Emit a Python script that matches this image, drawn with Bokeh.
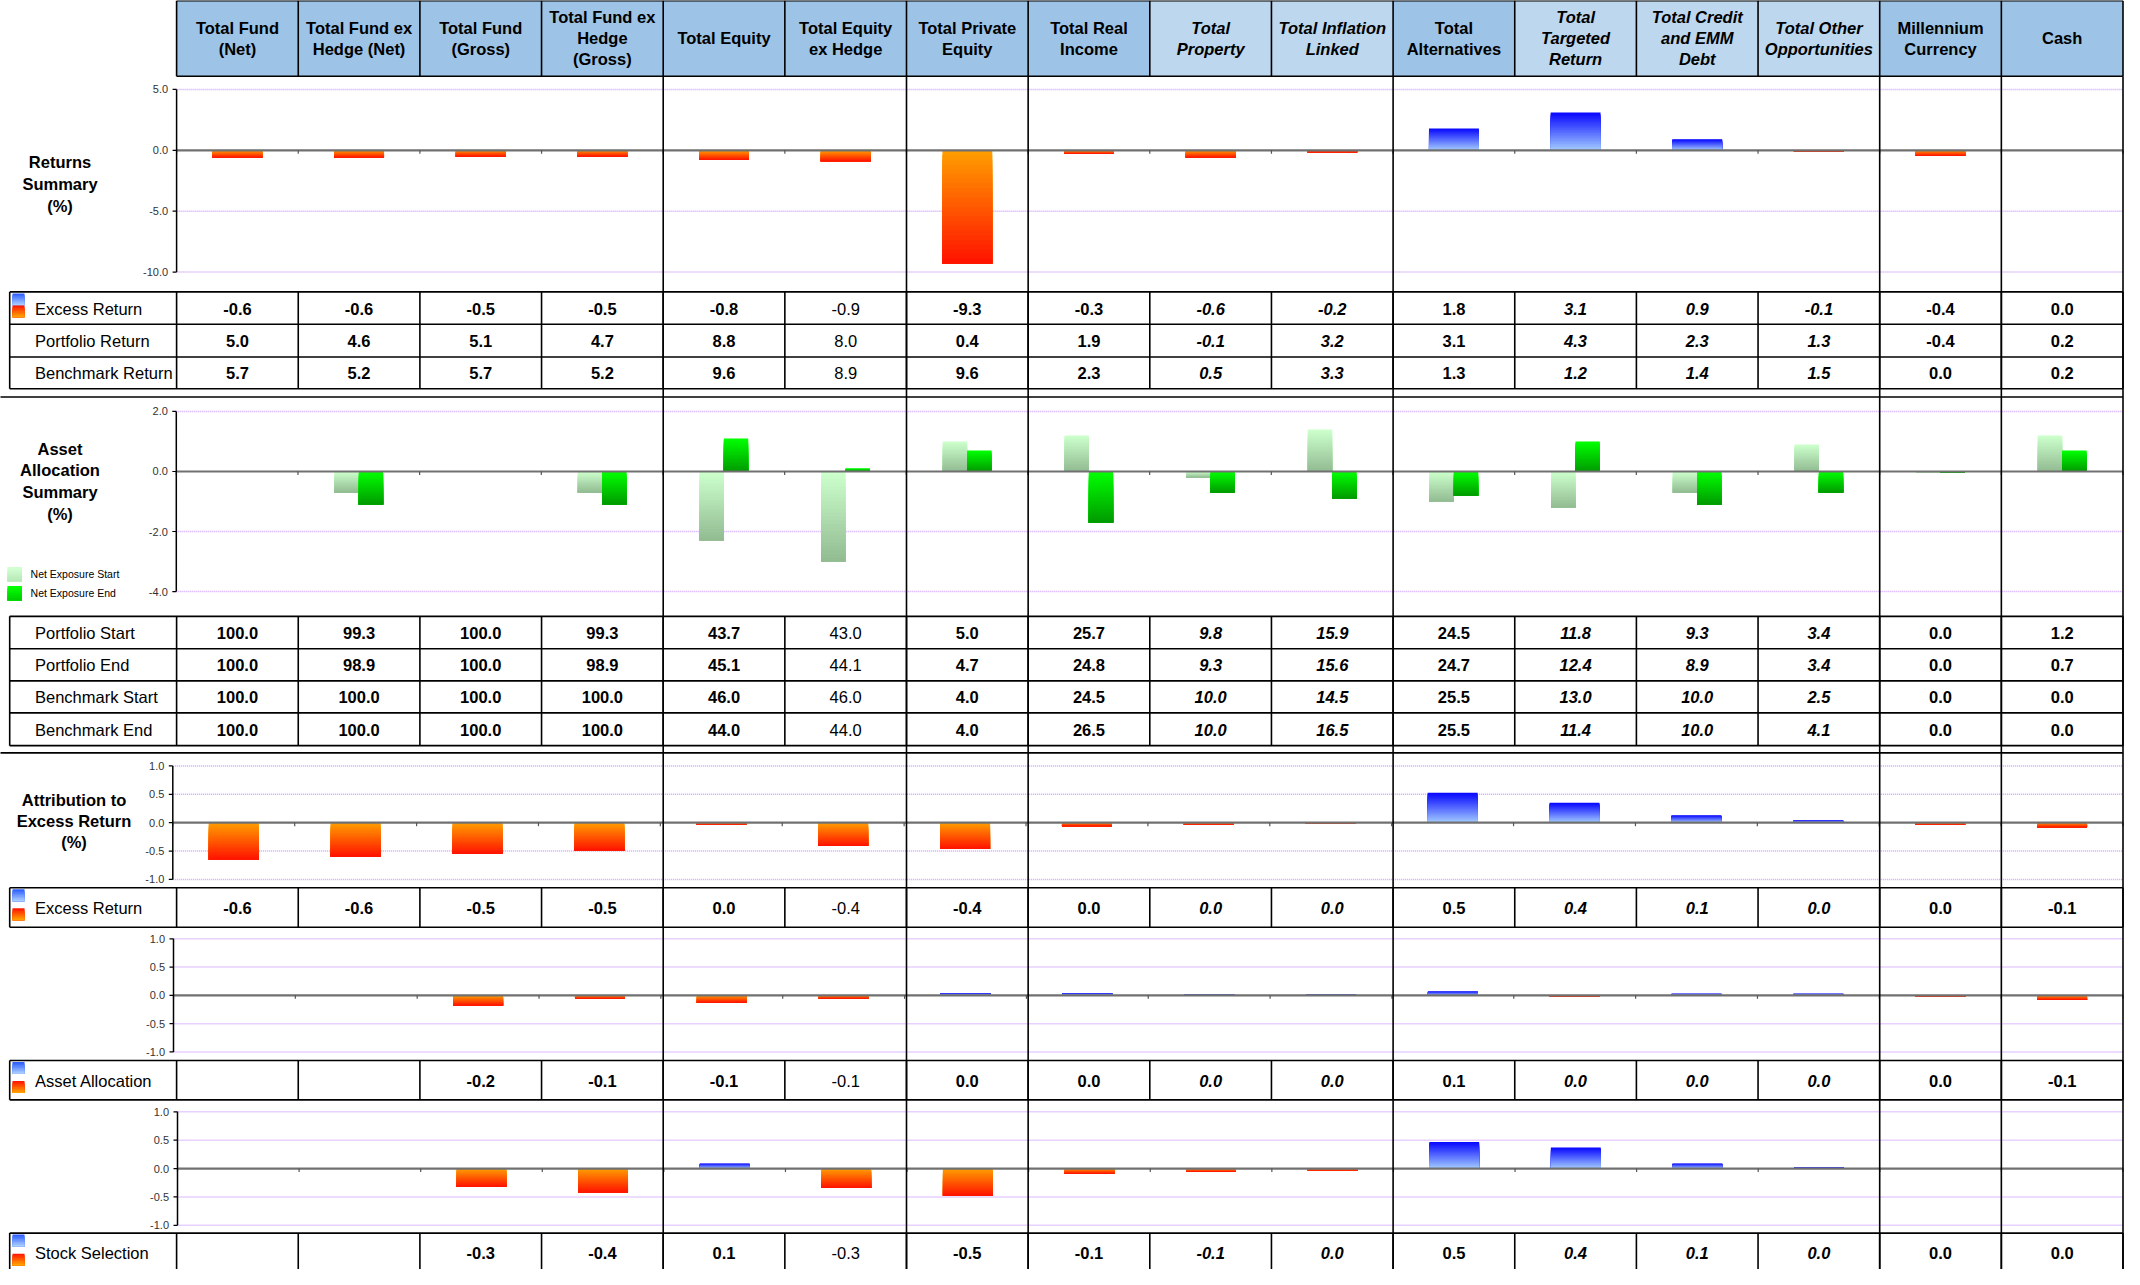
import numpy as np
from bokeh.plotting import figure
from bokeh.models import Range1d, ColumnDataSource
from bokeh.core.properties import value
from bokeh.embed import file_html
from bokeh.resources import INLINE

# ---------------- data ----------------
header_lines = [["Total Fund", "(Net)"], ["Total Fund ex", "Hedge (Net)"], ["Total Fund", "(Gross)"],
                ["Total Fund ex", "Hedge", "(Gross)"], ["Total Equity"], ["Total Equity", "ex Hedge"],
                ["Total Private", "Equity"], ["Total Real", "Income"], ["Total", "Property"],
                ["Total Inflation", "Linked"], ["Total", "Alternatives"], ["Total", "Targeted", "Return"],
                ["Total Credit", "and EMM", "Debt"], ["Total Other", "Opportunities"],
                ["Millennium", "Currency"], ["Cash"]]
subclass_cols = [8, 9, 11, 12, 13]
plain_cols = [5]

returns_rows = ["Excess Return", "Portfolio Return", "Benchmark Return"]
excess_return = ["-0.6", "-0.6", "-0.5", "-0.5", "-0.8", "-0.9", "-9.3", "-0.3", "-0.6", "-0.2", "1.8", "3.1", "0.9", "-0.1", "-0.4", "0.0"]
portfolio_return = ["5.0", "4.6", "5.1", "4.7", "8.8", "8.0", "0.4", "1.9", "-0.1", "3.2", "3.1", "4.3", "2.3", "1.3", "-0.4", "0.2"]
benchmark_return = ["5.7", "5.2", "5.7", "5.2", "9.6", "8.9", "9.6", "2.3", "0.5", "3.3", "1.3", "1.2", "1.4", "1.5", "0.0", "0.2"]

alloc_rows = ["Portfolio Start", "Portfolio End", "Benchmark Start", "Benchmark End"]
portfolio_start = ["100.0", "99.3", "100.0", "99.3", "43.7", "43.0", "5.0", "25.7", "9.8", "15.9", "24.5", "11.8", "9.3", "3.4", "0.0", "1.2"]
portfolio_end = ["100.0", "98.9", "100.0", "98.9", "45.1", "44.1", "4.7", "24.8", "9.3", "15.6", "24.7", "12.4", "8.9", "3.4", "0.0", "0.7"]
benchmark_start = ["100.0", "100.0", "100.0", "100.0", "46.0", "46.0", "4.0", "24.5", "10.0", "14.5", "25.5", "13.0", "10.0", "2.5", "0.0", "0.0"]
benchmark_end = ["100.0", "100.0", "100.0", "100.0", "44.0", "44.0", "4.0", "26.5", "10.0", "16.5", "25.5", "11.4", "10.0", "4.1", "0.0", "0.0"]

attr_excess = ["-0.6", "-0.6", "-0.5", "-0.5", "0.0", "-0.4", "-0.4", "0.0", "0.0", "0.0", "0.5", "0.4", "0.1", "0.0", "0.0", "-0.1"]
attr_alloc = ["", "", "-0.2", "-0.1", "-0.1", "-0.1", "0.0", "0.0", "0.0", "0.0", "0.1", "0.0", "0.0", "0.0", "0.0", "-0.1"]
attr_stock = ["", "", "-0.3", "-0.4", "0.1", "-0.3", "-0.5", "-0.1", "-0.1", "0.0", "0.5", "0.4", "0.1", "0.0", "0.0", "0.0"]

# bar heights (as drawn)
excess_return_bars = [-0.6, -0.6, -0.5, -0.5, -0.8, -0.9, -9.3, -0.3, -0.6, -0.15, 1.8, 3.1, 0.9, -0.12, -0.45, 0.02]
net_exposure_start = [0.0, -0.7, 0.0, -0.7, -2.3, -3.0, 1.0, 1.2, -0.2, 1.4, -1.0, -1.2, -0.7, 0.9, -0.02, 1.2]
net_exposure_end = [0.0, -1.1, 0.0, -1.1, 1.1, 0.1, 0.7, -1.7, -0.7, -0.9, -0.8, 1.0, -1.1, -0.7, -0.05, 0.7]
attr_excess_bars = [-0.65, -0.60, -0.55, -0.49, -0.04, -0.41, -0.46, -0.06, -0.04, -0.02, 0.53, 0.35, 0.13, 0.04, -0.04, -0.08]
attr_alloc_bars = [0.0, 0.0, -0.18, -0.06, -0.13, -0.06, 0.04, 0.04, 0.02, 0.02, 0.07, -0.02, 0.03, 0.03, -0.03, -0.08]
attr_stock_bars = [0.0, 0.0, -0.32, -0.42, 0.09, -0.34, -0.48, -0.09, -0.06, -0.04, 0.47, 0.37, 0.09, 0.02, 0.0, 0.0]

returns_ticks = [5.0, 0.0, -5.0, -10.0]
alloc_ticks = [2.0, 0.0, -2.0, -4.0]
attr_ticks = [1.0, 0.5, 0.0, -0.5, -1.0]

# ---------------- layout / style ----------------
FONT = "Liberation Sans"
# reference-pixel coordinate window shown by the figure
FX0, FY0 = 6.5, 6.0
FX1, FY1 = FX0 + 2124.0, 1285.0
FW, FH = FX1 - FX0, FY1 - FY0
NC = 16
X0, CW = 182.6, 121.65
XR = X0 + NC * CW
TL = 15.7
HDR_T, HDR_B = 6.3, 82.3
DARK_HDR, LIGHT_HDR = "#9DC3E6", "#BDD7EE"

p = figure(width=2124, height=1269, x_range=Range1d(FX0, FX1), y_range=Range1d(FY1, FY0),
           output_backend="svg", toolbar_location=None, min_border=0,
           x_axis_location=None, y_axis_location=None)
p.grid.visible = False
p.outline_line_color = None
p.background_fill_color = "white"
p.border_fill_color = "white"


def hex2rgb(h):
    return np.array([int(h[i:i + 2], 16) for i in (1, 3, 5)], dtype=float)


def mix(c1, c2, t):
    a, b = hex2rgb(c1), hex2rgb(c2)
    c = a + (b - a) * t
    return "#%02x%02x%02x" % tuple(int(round(v)) for v in c)


texts = {}


def add_text(x, y, s, size="16.5px", style="bold", align="center", color="black", xr="default", yr="default"):
    key = (size, style, align, color, xr, yr)
    d = texts.setdefault(key, dict(x=[], y=[], text=[]))
    d["x"].append(x)
    d["y"].append(y)
    d["text"].append(s)


segs = dict(x0=[], y0=[], x1=[], y1=[])


def add_line(x0, y0, x1, y1):
    segs["x0"].append(x0); segs["y0"].append(y0)
    segs["x1"].append(x1); segs["y1"].append(y1)


def col_style(i):
    if i in plain_cols:
        return "normal"
    if i in subclass_cols:
        return "bold italic"
    return "bold"


def grad_rects(store, left, right, hi, lo, c_top, c_bot, n):
    # nested rectangles: each one runs from its own top down to the bar's bottom
    for j in range(n):
        store["left"].append(left); store["right"].append(right)
        store["top"].append(hi - j * (hi - lo) / n); store["bottom"].append(lo)
        store["color"].append(mix(c_top, c_bot, j / max(n - 1, 1)))


# ---------------- header ----------------
hl = [X0 + i * CW for i in range(NC)]
p.quad(left=hl, right=[x + CW for x in hl], top=HDR_T, bottom=HDR_B,
       fill_color=[LIGHT_HDR if i in subclass_cols else DARK_HDR for i in range(NC)], line_color=None)
for i in range(NC + 1):
    add_line(X0 + i * CW, HDR_T, X0 + i * CW, HDR_B)
add_line(X0, HDR_T, XR, HDR_T)
add_line(X0, HDR_B, XR, HDR_B)
hc = 44.0
for i, lines in enumerate(header_lines):
    n = len(lines)
    for k, s in enumerate(lines):
        add_text(X0 + (i + 0.5) * CW, hc + (k - (n - 1) / 2) * 21.0, s, "16.5px",
                 "bold italic" if i in subclass_cols else "bold")

# ---------------- section titles ----------------
for k, s in enumerate(["Returns", "Summary", "(%)"]):
    add_text(66, 169 + k * 22, s)
for k, s in enumerate(["Asset", "Allocation", "Summary", "(%)"]):
    add_text(66, 458 + k * 21.7, s)
for k, s in enumerate(["Attribution to", "Excess Return", "(%)"]):
    add_text(80, 812 + k * 21, s)

# legend of allocation chart
leg = dict(left=[], right=[], top=[], bottom=[], color=[])
grad_rects(leg, 13.4, 28.0, 577.0, 591.7, "#D2FFD2", "#B8E8B8", 6)
grad_rects(leg, 13.4, 28.0, 596.0, 610.7, "#00FF00", "#00D000", 6)
p.quad(left="left", right="right", top="top", bottom="bottom", fill_color="color", line_color=None,
       source=ColumnDataSource(leg))
add_text(36.6, 584.3, "Net Exposure Start", "10.5px", "normal", "left")
add_text(36.6, 603.3, "Net Exposure End", "10.5px", "normal", "left")

# ---------------- tables ----------------
icon = dict(left=[], right=[], top=[], bottom=[], color=[])


def add_icon(top, rowh):
    grad_rects(icon, 18.5, 30.5, top + 1.5, top + 13.5, "#3060FF", "#A8CCFF", 8)
    t2 = top + rowh - 19.0
    grad_rects(icon, 18.5, 30.5, t2, t2 + 12.0, "#FF1A00", "#FFA000", 8)


def table(ys, labels, rows, icon_row=None):
    top, bot = ys[0], ys[-1]
    for y in ys:
        add_line(TL, y, XR, y)
    add_line(TL, top, TL, bot)
    for i in range(NC + 1):
        add_line(X0 + i * CW, top, X0 + i * CW, bot)
    for r, lab in enumerate(labels):
        yc = (ys[r] + ys[r + 1]) / 2 + 0.5
        add_text(41, yc, lab, "16.5px", "normal", "left")
        for i, v in enumerate(rows[r]):
            if v:
                add_text(X0 + (i + 0.5) * CW, yc, v, "16.5px", col_style(i))
    if icon_row is not None:
        add_icon(ys[icon_row], ys[icon_row + 1] - ys[icon_row])


table([299.7, 332.3, 365.3, 397.3], returns_rows, [excess_return, portfolio_return, benchmark_return], 0)
table([626.7, 659.3, 691.7, 724.0, 757.0], alloc_rows, [portfolio_start, portfolio_end, benchmark_start, benchmark_end])
table([900.3, 940.0], ["Excess Return"], [attr_excess], 0)
table([1074.3, 1114.0], ["Asset Allocation"], [attr_alloc], 0)
table([1248.3, 1288.0], ["Stock Selection"], [attr_stock], 0)

# separators and group lines
add_line(4.5, 405.7, XR, 405.7)
add_line(4.5, 764.3, XR, 764.3)
for b in [4, 6, 7, 10, 14, 15, 16]:
    add_line(X0 + b * CW, HDR_B, X0 + b * CW, FY1)

# ---------------- chart panels ----------------
NEG = ("#FF9C00", "#FF1400")
POS = ("#0A0AFF", "#A0C8FF")
START = ("#CCFFCC", "#93BC93")
END = ("#00FF00", "#009C00")

panels = [
    dict(name="ret", L=182.6, z=157.0, s=12.27, ticks=returns_ticks, series=[(excess_return_bars, 0.0, 0.41, None)]),
    dict(name="alloc", L=182.3, z=480.7, s=30.25, ticks=alloc_ticks,
         series=[(net_exposure_start, -0.1, 0.2, START), (net_exposure_end, 0.1, 0.2, END)]),
    dict(name="aex", L=178.8, z=834.7, s=57.2, ticks=attr_ticks, series=[(attr_excess_bars, 0.0, 0.41, None)]),
    dict(name="aal", L=179.5, z=1008.7, s=57.0, ticks=attr_ticks, series=[(attr_alloc_bars, 0.0, 0.41, None)]),
    dict(name="ass", L=183.5, z=1183.3, s=57.2, ticks=attr_ticks, series=[(attr_stock_bars, 0.0, 0.41, None)]),
]

NS = 24
for pn in panels:
    nm, L, z, s = pn["name"], pn["L"], pn["z"], pn["s"]
    D = NC * FW / (XR - L)
    xs = -(L - FX0) * D / FW
    p.extra_x_ranges["x_" + nm] = Range1d(start=xs, end=xs + D)
    p.extra_y_ranges["y_" + nm] = Range1d(start=(z - FY1) / s, end=(z - FY0) / s)
    xr, yr = "x_" + nm, "y_" + nm
    ticks = pn["ticks"]
    # gridlines
    gt = [t for t in ticks if t != 0]
    p.segment(x0=[0] * len(gt), x1=[NC] * len(gt), y0=gt, y1=gt, line_color="#CC99FF",
              line_width=1.5, line_dash="1 1", line_alpha=0.9, x_range_name=xr, y_range_name=yr)
    # bars (vertical gradient, top -> bottom)
    q = dict(left=[], right=[], top=[], bottom=[], color=[])
    for vals, off, w, cols in pn["series"]:
        for i, v in enumerate(vals):
            if v == 0:
                continue
            c = cols if cols is not None else (POS if v > 0 else NEG)
            grad_rects(q, i + 0.5 + off - w / 2, i + 0.5 + off + w / 2, max(v, 0.0), min(v, 0.0),
                       c[0], c[1], NS)
    p.quad(left="left", right="right", top="top", bottom="bottom", fill_color="color",
           line_color=None, source=ColumnDataSource(q), x_range_name=xr, y_range_name=yr)
    # zero line with category ticks
    p.segment(x0=[0], x1=[NC], y0=[0], y1=[0], line_color="#707070", line_width=2.2,
              x_range_name=xr, y_range_name=yr)
    p.segment(x0=list(range(NC + 1)), x1=list(range(NC + 1)), y0=[0] * (NC + 1),
              y1=[-3.5 / s] * (NC + 1), line_color="#555555", line_width=1.2,
              x_range_name=xr, y_range_name=yr)
    # y axis
    p.segment(x0=[L], x1=[L], y0=[max(ticks)], y1=[min(ticks)], line_color="black", line_width=1.5,
              y_range_name=yr)
    p.segment(x0=[L - 4] * len(ticks), x1=[L] * len(ticks), y0=ticks, y1=ticks, line_color="black",
              line_width=1.2, y_range_name=yr)
    for t in ticks:
        add_text(L - 8.5, t, "%.1f" % t, "11px", "normal", "right", "#333333", "default", yr)

# icons
p.quad(left="left", right="right", top="top", bottom="bottom", fill_color="color", line_color=None,
       source=ColumnDataSource(icon))

# black lines
p.segment(x0="x0", y0="y0", x1="x1", y1="y1", source=ColumnDataSource(segs), line_color="black", line_width=1.6)

# texts
for (size, style, align, color, xr, yr), d in texts.items():
    p.text(x="x", y="y", text="text", source=ColumnDataSource(d), text_font=value(FONT),
           text_font_size=size, text_font_style=style, text_align=align, text_baseline="middle",
           text_color=color, x_range_name=xr, y_range_name=yr)

open("out.html", "w").write(file_html(p, INLINE))
